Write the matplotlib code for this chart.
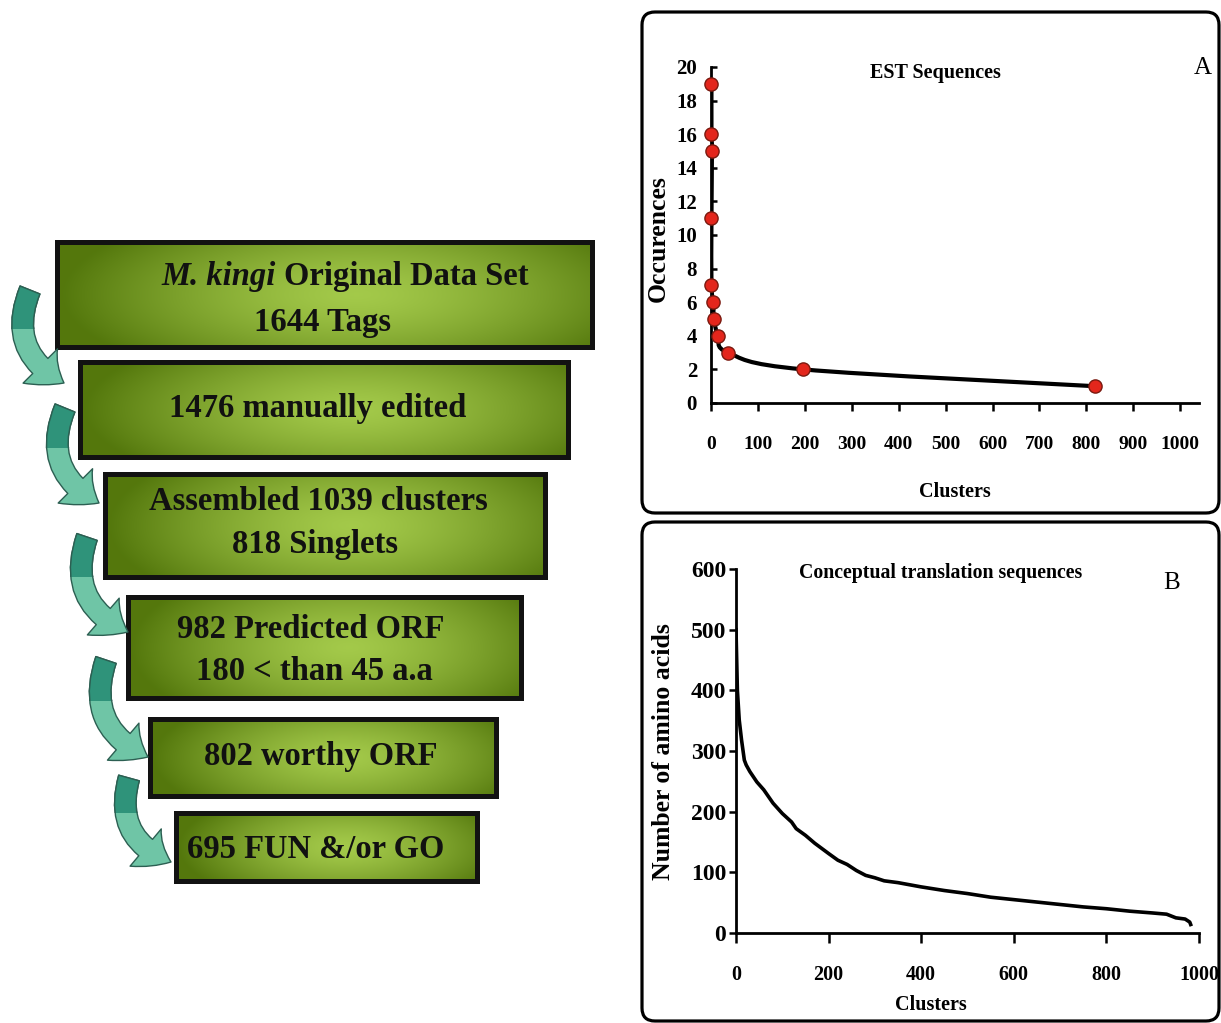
import numpy as np
import matplotlib
matplotlib.use('Agg')
import matplotlib.pyplot as plt
from matplotlib.patches import Rectangle, FancyBboxPatch, FancyArrowPatch
from matplotlib.path import Path
from matplotlib.patches import PathPatch
from matplotlib.transforms import IdentityTransform

plt.rcParams['font.family'] = ['Liberation Serif', 'DejaVu Serif']

W, H = 1221, 1023

# ---------------- data ----------------
# Panel A: EST sequences (clusters vs occurrences)
est_clusters = [1, 1, 2, 1, 1, 5, 6, 15, 36, 197, 818]
est_occurrences = [19, 16, 15, 11, 7, 6, 5, 4, 3, 2, 1]
a_xticks = [0, 100, 200, 300, 400, 500, 600, 700, 800, 900, 1000]
a_yticks = [0, 2, 4, 6, 8, 10, 12, 14, 16, 18, 20]

# Panel B: conceptual translation sequences (sorted ORF lengths)
orf_cluster = [0, 3, 7, 12, 18, 22, 30, 45, 60, 80, 100, 120, 130, 150, 170,
               200, 220, 240, 260, 280, 300, 320, 350, 400, 450, 500, 550,
               600, 650, 700, 750, 800, 850, 900, 930, 950, 970, 980, 982]
orf_length = [500, 400, 351, 318, 285, 277, 266, 249, 236, 214, 197, 183, 172,
              161, 148, 131, 120, 113, 103, 95, 91, 86, 83, 76, 70, 65, 59,
              55, 51, 47, 43, 40, 36, 33, 31, 25, 23, 18, 14]
b_xticks = [0, 200, 400, 600, 800, 1000]
b_yticks = [0, 100, 200, 300, 400, 500, 600]

# Flowchart
flow_lines = [
    ["Original Data Set", "1644 Tags"],
    ["1476 manually edited"],
    ["Assembled 1039 clusters", "818 Singlets"],
    ["982 Predicted ORF", "180 < than 45 a.a"],
    ["802 worthy ORF"],
    ["695 FUN &/or GO"],
]

# ---------------- layout helpers ----------------
def P(x, y):
    return (x / W, 1 - y / H)

fig = plt.figure(figsize=(W / 100, H / 100), dpi=100)
fig.patch.set_facecolor('white')

bg = fig.add_axes([0, 0, 1, 1])
bg.set_axis_off()

# boxes (left, right, top, bottom) in pixels
boxes = [(57, 592, 242, 347), (80, 568, 362, 457), (105, 545, 474, 577),
         (128, 521, 597, 698), (150, 496, 719, 796), (176, 477, 813, 881)]
text_pos = [[(345, 276), (322, 323)], [(318, 408)], [(318, 502), (315, 545)],
            [(311, 630), (314, 672)], [(321, 757)], [(316, 849)]]
FS = 23.5

light = np.array([0.64, 0.79, 0.29])
dark = np.array([0.33, 0.47, 0.05])
for (l, r, t, b) in boxes:
    u = np.linspace(-1, 1, 240)[None, :]
    v = np.linspace(-1, 1, 60)[:, None]
    d = np.sqrt(((u - 0.12) / 1.1) ** 2 + 0.3 * v ** 2)
    d = np.clip(d, 0, 1) ** 1.4
    img = light[None, None, :] * (1 - d[..., None]) + dark[None, None, :] * d[..., None]
    bg.imshow(img, extent=(l, r, b, t), origin='upper', aspect='auto',
              interpolation='bilinear', zorder=1)
    bg.add_patch(Rectangle((l, t), r - l, b - t, fill=False, ec='#121212',
                           lw=3.6, zorder=3))

# arrows (tail -> tip)
arrows = [((30, 290), (64, 383)), ((65, 408), (99, 503)), ((87, 537), (128, 632)),
          ((106, 660), (148, 757)), ((129, 778), (171, 862))]
for (a, bb) in arrows:
    style = 'simple,head_length=1.5,head_width=2.5,tail_width=1.1'
    ar = FancyArrowPatch(a, bb, connectionstyle='arc3,rad=0.45', arrowstyle=style,
                         mutation_scale=14, fc='#6fc5a6', ec='#2c5f52', lw=1.0,
                         shrinkA=0, shrinkB=0, zorder=4)
    bg.add_patch(ar)
    ar2 = FancyArrowPatch(a, bb, connectionstyle='arc3,rad=0.45', arrowstyle=style,
                          mutation_scale=14, fc='#2f937a', ec='#2c5f52', lw=1.0,
                          shrinkA=0, shrinkB=0, zorder=5)
    bg.add_patch(ar2)
    ymid = a[1] + 0.42 * (bb[1] - a[1])
    clip = Rectangle((0, a[1] - 20), 300, ymid - a[1] + 20, transform=bg.transData)
    ar2.set_clip_path(clip)

# panel borders
bg.add_patch(FancyBboxPatch((642, 12), 577, 501,
                            boxstyle='round,pad=0,rounding_size=13',
                            fill=False, ec='black', lw=2.3, zorder=2))
bg.add_patch(FancyBboxPatch((642, 522), 577, 499,
                            boxstyle='round,pad=0,rounding_size=13',
                            fill=False, ec='black', lw=2.3, zorder=2))
bg.set_xlim(0, W)
bg.set_ylim(H, 0)

# flowchart text
for i, lines in enumerate(flow_lines):
    for j, s in enumerate(lines):
        x, y = text_pos[i][j]
        if i == 0 and j == 0:
            continue
        fig.text(*P(x, y), s, ha='center', va='center', fontsize=FS,
                 fontweight='bold', color='#111111', zorder=10)

# first line with italic species name
renderer = fig.canvas.get_renderer()
t1 = fig.text(0, 0, "M. kingi ", ha='left', va='center', fontsize=FS,
              fontweight='bold', fontstyle='italic', color='#111111')
t2 = fig.text(0, 0, "Original Data Set", ha='left', va='center', fontsize=FS,
              fontweight='bold', color='#111111')
w1 = t1.get_window_extent(renderer).width
w2 = t2.get_window_extent(renderer).width
cx, cy = text_pos[0][0]
x0 = cx - (w1 + w2) / 2
t1.set_position(P(x0, cy))
t2.set_position(P(x0 + w1, cy))

# ---------------- Panel A ----------------
axA = fig.add_axes([711 / W, 1 - 403 / H, 488 / W, 336 / H])
axA.patch.set_alpha(0)
axA.set_xlim(0, 1040)
axA.set_ylim(0, 20)
for s in ['top', 'right']:
    axA.spines[s].set_visible(False)
for s in ['left', 'bottom']:
    axA.spines[s].set_linewidth(2.0)
axA.set_xticks(a_xticks)
axA.set_yticks(a_yticks)
axA.tick_params(axis='x', direction='out', length=6, width=1.8, pad=18, labelsize=14)
axA.tick_params(axis='y', direction='in', length=4, width=1.8, pad=10, labelsize=15)
for lab in axA.get_xticklabels() + axA.get_yticklabels():
    lab.set_fontweight('bold')

# smoothed line through the points (Catmull-Rom in display space)
pts = axA.transData.transform(np.column_stack([est_clusters, est_occurrences]))
verts = [pts[0]]
codes = [Path.MOVETO]
n = len(pts)
for k in range(n - 1):
    p0 = pts[k - 1] if k > 0 else pts[k]
    p1 = pts[k]
    p2 = pts[k + 1]
    p3 = pts[k + 2] if k + 2 < n else pts[k + 1]
    c1 = p1 + (p2 - p0) / 6.0
    c2 = p2 - (p3 - p1) / 6.0
    verts += [c1, c2, p2]
    codes += [Path.CURVE4] * 3
line = PathPatch(Path(verts, codes), fill=False, ec='black', lw=3.0,
                 transform=IdentityTransform(), zorder=3, capstyle='round')
axA.add_artist(line)
axA.plot(est_clusters, est_occurrences, linestyle='none', marker='o',
         markersize=9.5, markerfacecolor='#e3261c', markeredgecolor='#7a1a10',
         markeredgewidth=1.0, zorder=4, clip_on=False)

fig.text(*P(935, 73), "EST Sequences", ha='center', va='center', fontsize=14.5,
         fontweight='bold')
fig.text(*P(1203, 68), "A", ha='center', va='center', fontsize=18)
fig.text(*P(955, 492), "Clusters", ha='center', va='center', fontsize=14.5,
         fontweight='bold')
fig.text(*P(658, 239), "Occurences", ha='center', va='center', fontsize=18.5,
         fontweight='bold', rotation=90)

# ---------------- Panel B ----------------
axB = fig.add_axes([736 / W, 1 - 933 / H, 463 / W, 364 / H])
axB.patch.set_alpha(0)
axB.set_xlim(0, 1000)
axB.set_ylim(0, 600)
for s in ['top', 'right']:
    axB.spines[s].set_visible(False)
for s in ['left', 'bottom']:
    axB.spines[s].set_linewidth(2.0)
axB.set_xticks(b_xticks)
axB.set_yticks(b_yticks)
axB.tick_params(axis='x', direction='out', length=7, width=1.8, pad=16, labelsize=14.5)
axB.tick_params(axis='y', direction='out', length=5, width=1.8, pad=2, labelsize=17)
for lab in axB.get_xticklabels() + axB.get_yticklabels():
    lab.set_fontweight('bold')
axB.plot(orf_cluster, orf_length, color='black', lw=2.6, zorder=3)

fig.text(*P(941, 573), "Conceptual translation sequences", ha='center', va='center',
         fontsize=14.3, fontweight='bold')
fig.text(*P(1172, 583), "B", ha='center', va='center', fontsize=18)
fig.text(*P(931, 1005), "Clusters", ha='center', va='center', fontsize=14.5,
         fontweight='bold')
fig.text(*P(664, 752), "Number of amino acids", ha='center', va='center',
         fontsize=18.5, fontweight='bold', rotation=90)

fig.savefig('out.png', dpi=100, facecolor='white')
